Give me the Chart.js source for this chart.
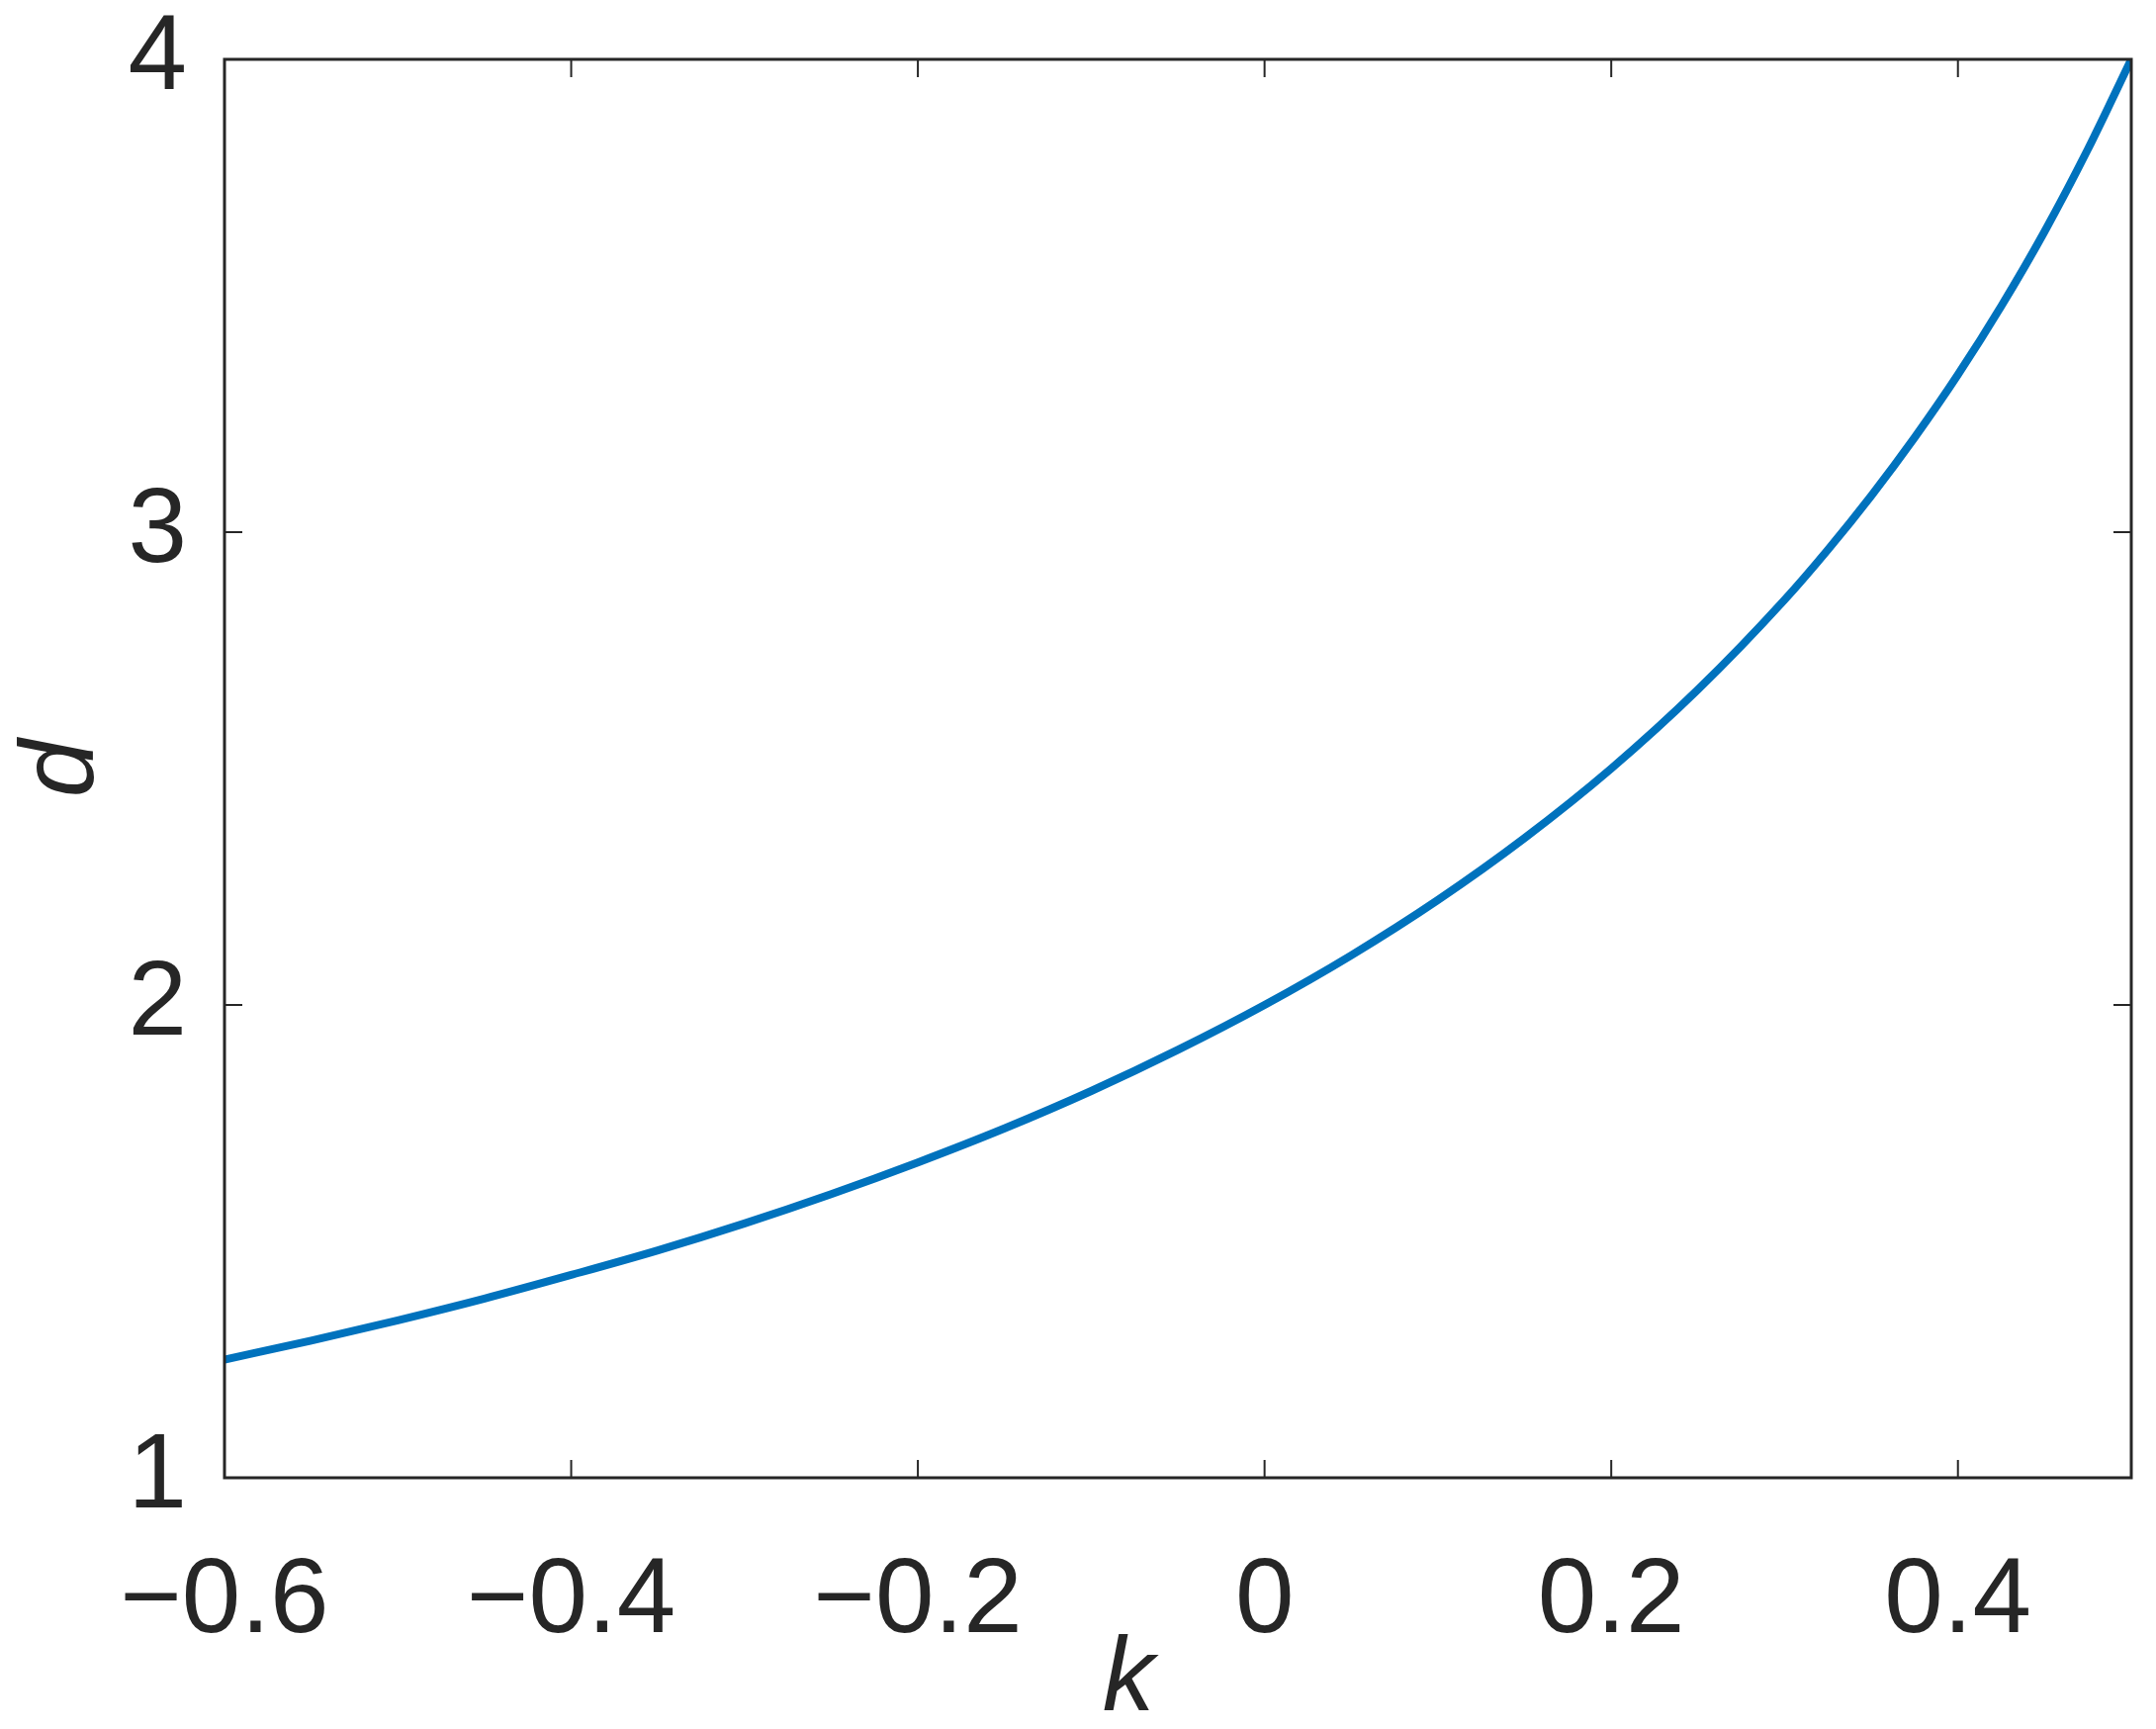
<!DOCTYPE html>
<html>
<head>
<meta charset="utf-8">
<script src="https://cdn.jsdelivr.net/npm/chart.js@4.4.1/dist/chart.umd.min.js"></script>
<style>
  body { margin: 0; background: #fff; }
  #wrap { width: 2180px; height: 1748px; }
</style>
</head>
<body>
<div id="wrap"><canvas id="curveChart"></canvas></div>
<script>
// values
const kValues = [-0.6, -0.55, -0.5, -0.45, -0.4, -0.35, -0.3, -0.25, -0.2, -0.15, -0.1, -0.05,
  0, 0.05, 0.1, 0.15, 0.2, 0.25, 0.3, 0.325, 0.35, 0.375, 0.4, 0.425, 0.45, 0.475, 0.5];
const dValues = [1.25, 1.29, 1.333, 1.379, 1.429, 1.481, 1.538, 1.6, 1.667, 1.739, 1.818, 1.905,
  2.0, 2.105, 2.222, 2.353, 2.5, 2.667, 2.857, 2.963, 3.077, 3.2, 3.333, 3.478, 3.636, 3.81, 4.0];

const xTicks = [-0.6, -0.4, -0.2, 0, 0.2, 0.4];
const xTickLabels = ["\u22120.6", "\u22120.4", "\u22120.2", "0", "0.2", "0.4"];
const yTicks = [1, 2, 3, 4];
const yTickLabels = ["1", "2", "3", "4"];

const textColor = "#262626";
const tickFont = { family: "'Liberation Sans', Arial, sans-serif", size: 107, lineHeight: 1 };

// box around the axes, inward ticks on all four sides, axis labels
const axesBox = {
  id: "axesBox",
  afterDraw(chart) {
    const { ctx, chartArea: a, scales } = chart;
    const len = 18;
    ctx.save();
    ctx.strokeStyle = textColor;
    ctx.lineWidth = 3;
    ctx.strokeRect(a.left, a.top, a.right - a.left, a.bottom - a.top);
    ctx.lineWidth = 2;
    ctx.beginPath();
    xTicks.forEach((v) => {
      const px = scales.x.getPixelForValue(v);
      ctx.moveTo(px, a.bottom); ctx.lineTo(px, a.bottom - len);
      ctx.moveTo(px, a.top); ctx.lineTo(px, a.top + len);
    });
    yTicks.forEach((v) => {
      const py = scales.y.getPixelForValue(v);
      ctx.moveTo(a.left, py); ctx.lineTo(a.left + len, py);
      ctx.moveTo(a.right, py); ctx.lineTo(a.right - len, py);
    });
    ctx.stroke();

    ctx.fillStyle = textColor;
    ctx.font = "italic 105px 'Liberation Sans', Arial, sans-serif";
    ctx.textAlign = "center";
    ctx.textBaseline = "middle";
    ctx.fillText("k", (a.left + a.right) / 2 - 50, a.bottom + 206);
    ctx.translate(65, (a.top + a.bottom) / 2);
    ctx.rotate(-Math.PI / 2);
    ctx.fillText("d", 0, 0);
    ctx.restore();
  },
};

new Chart(document.getElementById("curveChart"), {
  type: "line",
  data: {
    labels: kValues,
    datasets: [
      {
        data: kValues.map((k, i) => ({ x: k, y: dValues[i] })),
        borderColor: "#0072BD",
        borderWidth: 8,
        pointRadius: 0,
        cubicInterpolationMode: "monotone",
        fill: false,
      },
    ],
  },
  options: {
    responsive: true,
    maintainAspectRatio: false,
    animation: false,
    layout: { padding: { top: 60, right: 25, left: 0, bottom: 0 } },
    plugins: { legend: { display: false }, tooltip: { enabled: false } },
    scales: {
      x: {
        type: "linear",
        min: -0.6,
        max: 0.5,
        grid: { display: false, drawTicks: false },
        border: { display: false },
        afterBuildTicks: (scale) => { scale.ticks = xTicks.map((v) => ({ value: v })); },
        afterFit: (scale) => {
          scale.height = 254;
          scale.paddingLeft = 0;
          scale.paddingRight = 0;
        },
        ticks: {
          color: textColor,
          font: tickFont,
          padding: 73,
          maxRotation: 0,
          autoSkip: false,
          callback: (v) => xTickLabels[xTicks.indexOf(v)],
        },
      },
      y: {
        type: "linear",
        min: 1,
        max: 4,
        grid: { display: false, drawTicks: false },
        border: { display: false },
        afterBuildTicks: (scale) => { scale.ticks = yTicks.map((v) => ({ value: v })); },
        afterFit: (scale) => {
          scale.width = 227;
          scale.paddingTop = 0;
          scale.paddingBottom = 0;
        },
        ticks: {
          color: textColor,
          font: tickFont,
          padding: 38,
          autoSkip: false,
          callback: (v) => yTickLabels[yTicks.indexOf(v)],
        },
      },
    },
  },
  plugins: [axesBox],
});
</script>
</body>
</html>
